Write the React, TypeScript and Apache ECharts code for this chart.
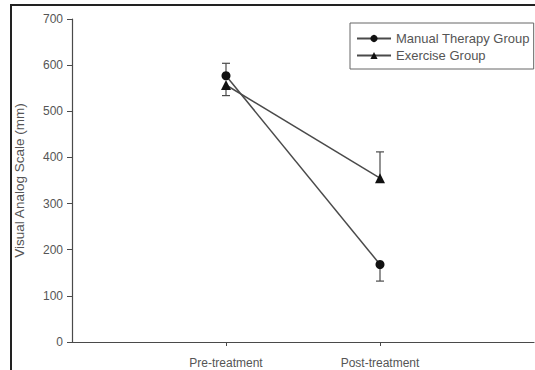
import React, { useEffect, useRef } from "react";
import * as echarts from "echarts";

const categories = ["Pre-treatment", "Post-treatment"];
const categoryPositions = [1, 2];
const manualMean = [577, 168];
const manualErr = [27, 36];
const manualErrDir = [1, -1];
const exerciseMean = [557, 355];
const exerciseErr = [23, 57];
const exerciseErrDir = [-1, 1];
const yTicks = [0, 100, 200, 300, 400, 500, 600, 700];

const lineColor = "#4a4a4a";
const textColor = "#555";

function errorSeries(name: string, means: number[], errs: number[], dirs: number[]) {
  const data = means.map((m, i) => [categoryPositions[i], m, m + dirs[i] * errs[i]]);
  return {
    type: "custom",
    name: name + " err",
    silent: true,
    z: 1,
    renderItem: (params: any, api: any) => {
      const x = api.value(0);
      const p0 = api.coord([x, api.value(1)]);
      const p1 = api.coord([x, api.value(2)]);
      const cap = 4;
      return {
        type: "group",
        children: [
          { type: "line", shape: { x1: p0[0], y1: p0[1], x2: p1[0], y2: p1[1] }, style: { stroke: lineColor, lineWidth: 1.2 } },
          { type: "line", shape: { x1: p1[0] - cap, y1: p1[1], x2: p1[0] + cap, y2: p1[1] }, style: { stroke: lineColor, lineWidth: 1.2 } },
        ],
      };
    },
    data,
  };
}

export default function App() {
  const ref = useRef<HTMLDivElement>(null);
  useEffect(() => {
    if (!ref.current) return;
    const chart = echarts.init(ref.current, null, { renderer: "svg" });
    chart.setOption({
      animation: false,
      backgroundColor: "#fff",
      textStyle: { fontFamily: "Liberation Sans, Arial, sans-serif" },
      graphic: [
        { type: "line", shape: { x1: 11, y1: 5, x2: 11, y2: 370 }, style: { stroke: "#222", lineWidth: 2 } },
        { type: "line", shape: { x1: 10, y1: 5, x2: 535, y2: 5 }, style: { stroke: "#222", lineWidth: 2 } },
      ],
      grid: { left: 72, top: 19, right: 1, bottom: 28, containLabel: false },
      legend: {
        left: 350,
        top: 23,
        orient: "vertical",
        padding: [9, 4, 7, 6],
        borderColor: "#666",
        borderWidth: 1,
        itemWidth: 34,
        itemHeight: 9,
        itemGap: 4,
        textStyle: { color: textColor, fontSize: 13 },
        data: ["Manual Therapy Group", "Exercise Group"],
      },
      xAxis: {
        type: "value",
        min: 0,
        max: 3,
        interval: 1,
        splitLine: { show: false },
        axisLine: { lineStyle: { color: lineColor, width: 1.2 } },
        axisTick: { customValues: categoryPositions, length: 4, lineStyle: { color: lineColor } },
        axisLabel: {
          customValues: categoryPositions,
          color: textColor,
          fontSize: 12,
          margin: 15,
          formatter: (v: number) => categories[categoryPositions.indexOf(v)] ?? "",
        },
      },
      yAxis: {
        type: "value",
        min: 0,
        max: 700,
        interval: 100,
        name: "Visual Analog Scale (mm)",
        nameLocation: "middle",
        nameGap: 46,
        nameTextStyle: { color: textColor, fontSize: 13.5 },
        splitLine: { show: false },
        axisLine: { show: true, lineStyle: { color: lineColor, width: 1.2 } },
        axisTick: { show: true, length: 5, lineStyle: { color: lineColor } },
        axisLabel: {
          color: textColor,
          fontSize: 12,
          margin: 9,
          formatter: (v: number) => (yTicks.includes(v) ? String(v) : ""),
        },
      },
      series: [
        errorSeries("Manual Therapy Group", manualMean, manualErr, manualErrDir),
        errorSeries("Exercise Group", exerciseMean, exerciseErr, exerciseErrDir),
        {
          type: "line",
          name: "Manual Therapy Group",
          data: manualMean.map((m, i) => [categoryPositions[i], m]),
          symbol: "circle",
          symbolSize: 9,
          lineStyle: { color: lineColor, width: 1.5 },
          itemStyle: { color: "#111" },
          z: 3,
        },
        {
          type: "line",
          name: "Exercise Group",
          data: exerciseMean.map((m, i) => [categoryPositions[i], m]),
          symbol: "triangle",
          symbolSize: 10,
          lineStyle: { color: lineColor, width: 1.5 },
          itemStyle: { color: "#111" },
          z: 3,
        },
      ],
    });
    return () => chart.dispose();
  }, []);
  return <div ref={ref} style={{ width: 535, height: 370, position: "absolute", left: 0, top: 0 }} />;
}
